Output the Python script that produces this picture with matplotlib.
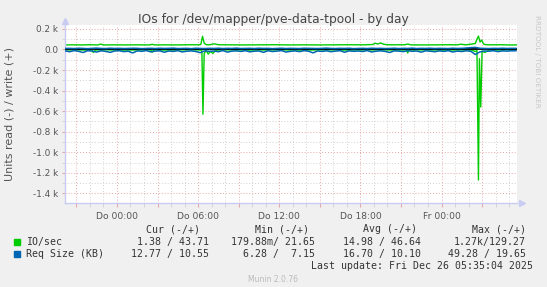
import numpy as np
import matplotlib.pyplot as plt
from matplotlib.ticker import MultipleLocator, FuncFormatter

# time axis: hours relative to "Do 00:00"
x_start, x_end = -3.84, 29.58

# IO/sec write (+), sparse samples with the spikes
io_write_t = [-3.83, -3.2, -2.6, -2.0, -1.4, -1.2, -1.0, -0.2, 0.6, 1.5,
              2.4, 2.6, 2.8, 3.6, 4.5, 5.4, 6.0, 6.2, 6.33, 6.45,
              6.6, 6.8, 7.0, 7.2, 7.5, 8.4, 9.4, 10.5, 11.6, 12.7,
              13.8, 14.9, 16.0, 17.1, 18.2, 18.9, 19.1, 19.3, 19.5, 19.7,
              19.9, 20.3, 21.3, 21.5, 21.7, 22.6, 23.6, 24.6, 25.2, 25.4,
              25.8, 26.2, 26.5, 26.62, 26.73, 26.85, 26.97, 27.1, 27.25, 27.6,
              28.3, 29.0, 29.58]
io_write = [44, 45, 44, 46, 44, 52, 44, 45, 44, 45,
            44, 50, 44, 45, 44, 46, 45, 48, 128, 62,
            47, 45, 50, 55, 46, 45, 44, 45, 46, 44,
            45, 44, 45, 46, 45, 48, 60, 54, 63, 52,
            47, 45, 46, 53, 45, 44, 45, 46, 45, 51,
            45, 52, 58, 100, 130, 72, 92, 54, 47, 45,
            46, 44, 44]

# IO/sec read (-)
io_read_t = [-3.83, -3.0, -2.2, -1.85, -1.75, -1.6, -0.8, 0.4, 1.6, 2.5,
             2.6, 2.7, 3.8, 5.0, 6.0, 6.2, 6.28, 6.36, 6.45, 6.6,
             6.75, 6.9, 7.1, 7.3, 7.6, 8.6, 9.8, 11.0, 12.2, 13.4,
             14.6, 15.8, 17.0, 18.2, 19.4, 20.6, 21.4, 21.5, 21.6, 22.8,
             24.0, 25.2, 26.2, 26.5, 26.62, 26.73, 26.8, 26.9, 27.0, 27.2,
             27.5, 28.4, 29.58]
io_read = [5, 4, 6, 5, 30, 5, 4, 6, 5, 4,
           28, 5, 6, 4, 5, 6, 12, 630, 40, 10,
           45, 20, 38, 8, 5, 4, 6, 5, 4, 6,
           5, 4, 6, 5, 4, 6, 5, 34, 5, 4,
           6, 5, 5, 20, 10, 1270, 90, 560, 15, 30,
           6, 5, 1]

# Req Size (KB), sampled every 20 minutes
req_t = np.arange(101) / 3 - 23 / 6
req_read = [14, 22, 11, 18, 30, 12, 16, 25, 13, 19, 28, 15, 12, 21, 17, 34, 14, 18, 11, 23,
            16, 13, 27, 15, 19, 12, 24, 17, 14, 20, 31, 13, 18, 15, 22, 11, 26, 16, 14, 19,
            12, 23, 17, 15, 28, 13, 20, 16, 11, 25, 18, 14, 21, 12, 17, 33, 15, 19, 13, 22,
            16, 12, 27, 14, 18, 15, 20, 11, 24, 17, 13, 19, 29, 14, 16, 21, 12, 18, 15, 26,
            13, 17, 22, 14, 19, 12, 25, 16, 20, 13, 18, 49, 24, 15, 17, 12, 21, 14, 16, 13, 13]
req_write = [10, 11, 9, 12, 10, 8, 11, 13, 10, 9, 12, 10, 11, 9, 10, 12, 11, 8, 10, 11,
             9, 12, 10, 11, 13, 9, 10, 11, 8, 12, 10, 9, 11, 10, 12, 9, 11, 10, 13, 9,
             10, 11, 9, 12, 10, 11, 8, 10, 12, 9, 11, 10, 9, 12, 11, 10, 9, 11, 13, 10,
             9, 11, 10, 12, 8, 10, 11, 9, 12, 10, 11, 9, 10, 12, 9, 11, 10, 13, 9, 11,
             10, 12, 9, 11, 10, 9, 12, 10, 11, 14, 18, 20, 12, 10, 9, 11, 10, 12, 10, 11, 11]

x_ticks = [0, 6, 12, 18, 24]
x_labels = ["Do 00:00", "Do 06:00", "Do 12:00", "Do 18:00", "Fr 00:00"]

legend_names = ["IO/sec", "Req Size (KB)"]
legend_cur = ["1.38 / 43.71", "12.77 / 10.55"]
legend_min = ["179.88m/ 21.65", "6.28 /  7.15"]
legend_avg = ["14.98 / 46.64", "16.70 / 10.10"]
legend_max = ["1.27k/129.27", "49.28 / 19.65"]
colors = ["#00CC00", "#0066B3"]

W, H = 547, 287
bg = "#F0F0F0"
red_grid = "#E8A8A8"
grey_grid = "#D0D0D0"
axis_col = "#C8CCF2"
mono = "DejaVu Sans Mono"


def fx(px):
    return px / W


def fy(py):
    return 1 - py / H


fig = plt.figure(figsize=(W / 100, H / 100), dpi=100, facecolor=bg)
ax = fig.add_axes([fx(65), fy(202.7), fx(517) - fx(65), fy(25) - fy(202.7)])
ax.set_facecolor("white")

# data lines
ax.axhline(0, color="black", lw=1.3, zorder=3)
ax.plot(io_write_t, io_write, color=colors[0], lw=1.0, zorder=2)
ax.plot(io_read_t, -np.array(io_read), color=colors[0], lw=1.0, zorder=2)
ax.plot(req_t, req_write, color=colors[1], lw=1.1, zorder=4)
ax.plot(req_t, -np.array(req_read), color=colors[1], lw=1.1, zorder=4)

ax.set_xlim(x_start, x_end)
ax.set_ylim(-1491, 238)

ax.xaxis.set_major_locator(MultipleLocator(3))
ax.xaxis.set_minor_locator(MultipleLocator(1))
ax.yaxis.set_major_locator(MultipleLocator(200))
ax.yaxis.set_minor_locator(MultipleLocator(100))
ax.grid(which="minor", color=grey_grid, linestyle=(0, (1, 2)), lw=0.7, zorder=0)
ax.grid(which="major", color=red_grid, linestyle=(0, (1, 2)), lw=0.7, zorder=1)

ax.set_xticks(list(range(-3, 30, 3)))
ax.set_xticklabels([x_labels[x_ticks.index(t)] if t in x_ticks else "" for t in range(-3, 30, 3)])
ax.yaxis.set_major_formatter(FuncFormatter(lambda v, p: "0.0" if abs(v) < 1e-6 else f"{v / 1000:.1f} k"))

ax.tick_params(axis="x", which="major", length=3, color=red_grid, labelsize=6.6, labelcolor="#555555", pad=4)
ax.tick_params(axis="x", which="minor", length=3, color=grey_grid)
ax.tick_params(axis="y", which="major", length=2, color=red_grid, labelsize=6.4, labelcolor="#555555", pad=3)
ax.tick_params(axis="y", which="minor", length=2, color=grey_grid)

for s in ["top", "right"]:
    ax.spines[s].set_visible(False)
for s in ["left", "bottom"]:
    ax.spines[s].set_color(axis_col)
    ax.spines[s].set_linewidth(1.0)
ax.plot([0], [1.02], marker="^", color=axis_col, ms=5, transform=ax.transAxes, clip_on=False)
ax.plot([1.01], [0], marker=">", color=axis_col, ms=5, transform=ax.transAxes, clip_on=False)

# texts
fig.text(fx(273.5), fy(19), "IOs for /dev/mapper/pve-data-tpool - by day",
         ha="center", va="center", fontsize=8.8, color="#444444")
fig.text(fx(10), fy(114.5), "Units read (-) / write (+)", rotation=90,
         ha="center", va="center", fontsize=8.0, color="#555555")
fig.text(fx(537), fy(15), "RRDTOOL / TOBI OETIKER", rotation=270,
         ha="center", va="top", fontsize=5.2, color="#C8C8C8")

# legend table
hdr_y = 229
for label, xr in [("Cur (-/+)", 200), ("Min (-/+)", 308.8), ("Avg (-/+)", 417), ("Max (-/+)", 526)]:
    fig.text(fx(xr), fy(hdr_y), label, ha="right", va="center", family=mono, fontsize=7.1, color="#333333")

for i, yy in enumerate([241.9, 254]):
    fig.patches.append(plt.Rectangle((fx(14.3), fy(yy + 2.6)), fx(5.2), fy(0) - fy(5.2),
                                     transform=fig.transFigure, color=colors[i]))
    fig.text(fx(26.2), fy(yy), legend_names[i], ha="left", va="center", family=mono, fontsize=7.1, color="#333333")
    for vals, xr in [(legend_cur, 209.3), (legend_min, 315), (legend_avg, 421), (legend_max, 526)]:
        fig.text(fx(xr), fy(yy), vals[i], ha="right", va="center", family=mono, fontsize=7.1, color="#333333")

fig.text(fx(532.8), fy(266.3), "Last update: Fri Dec 26 05:35:04 2025",
         ha="right", va="center", family=mono, fontsize=7.1, color="#333333")
fig.text(fx(273.5), fy(279.5), "Munin 2.0.76", ha="center", va="center", fontsize=5.5, color="#BBBBBB")

plt.savefig("out.png", dpi=100, facecolor=bg)
